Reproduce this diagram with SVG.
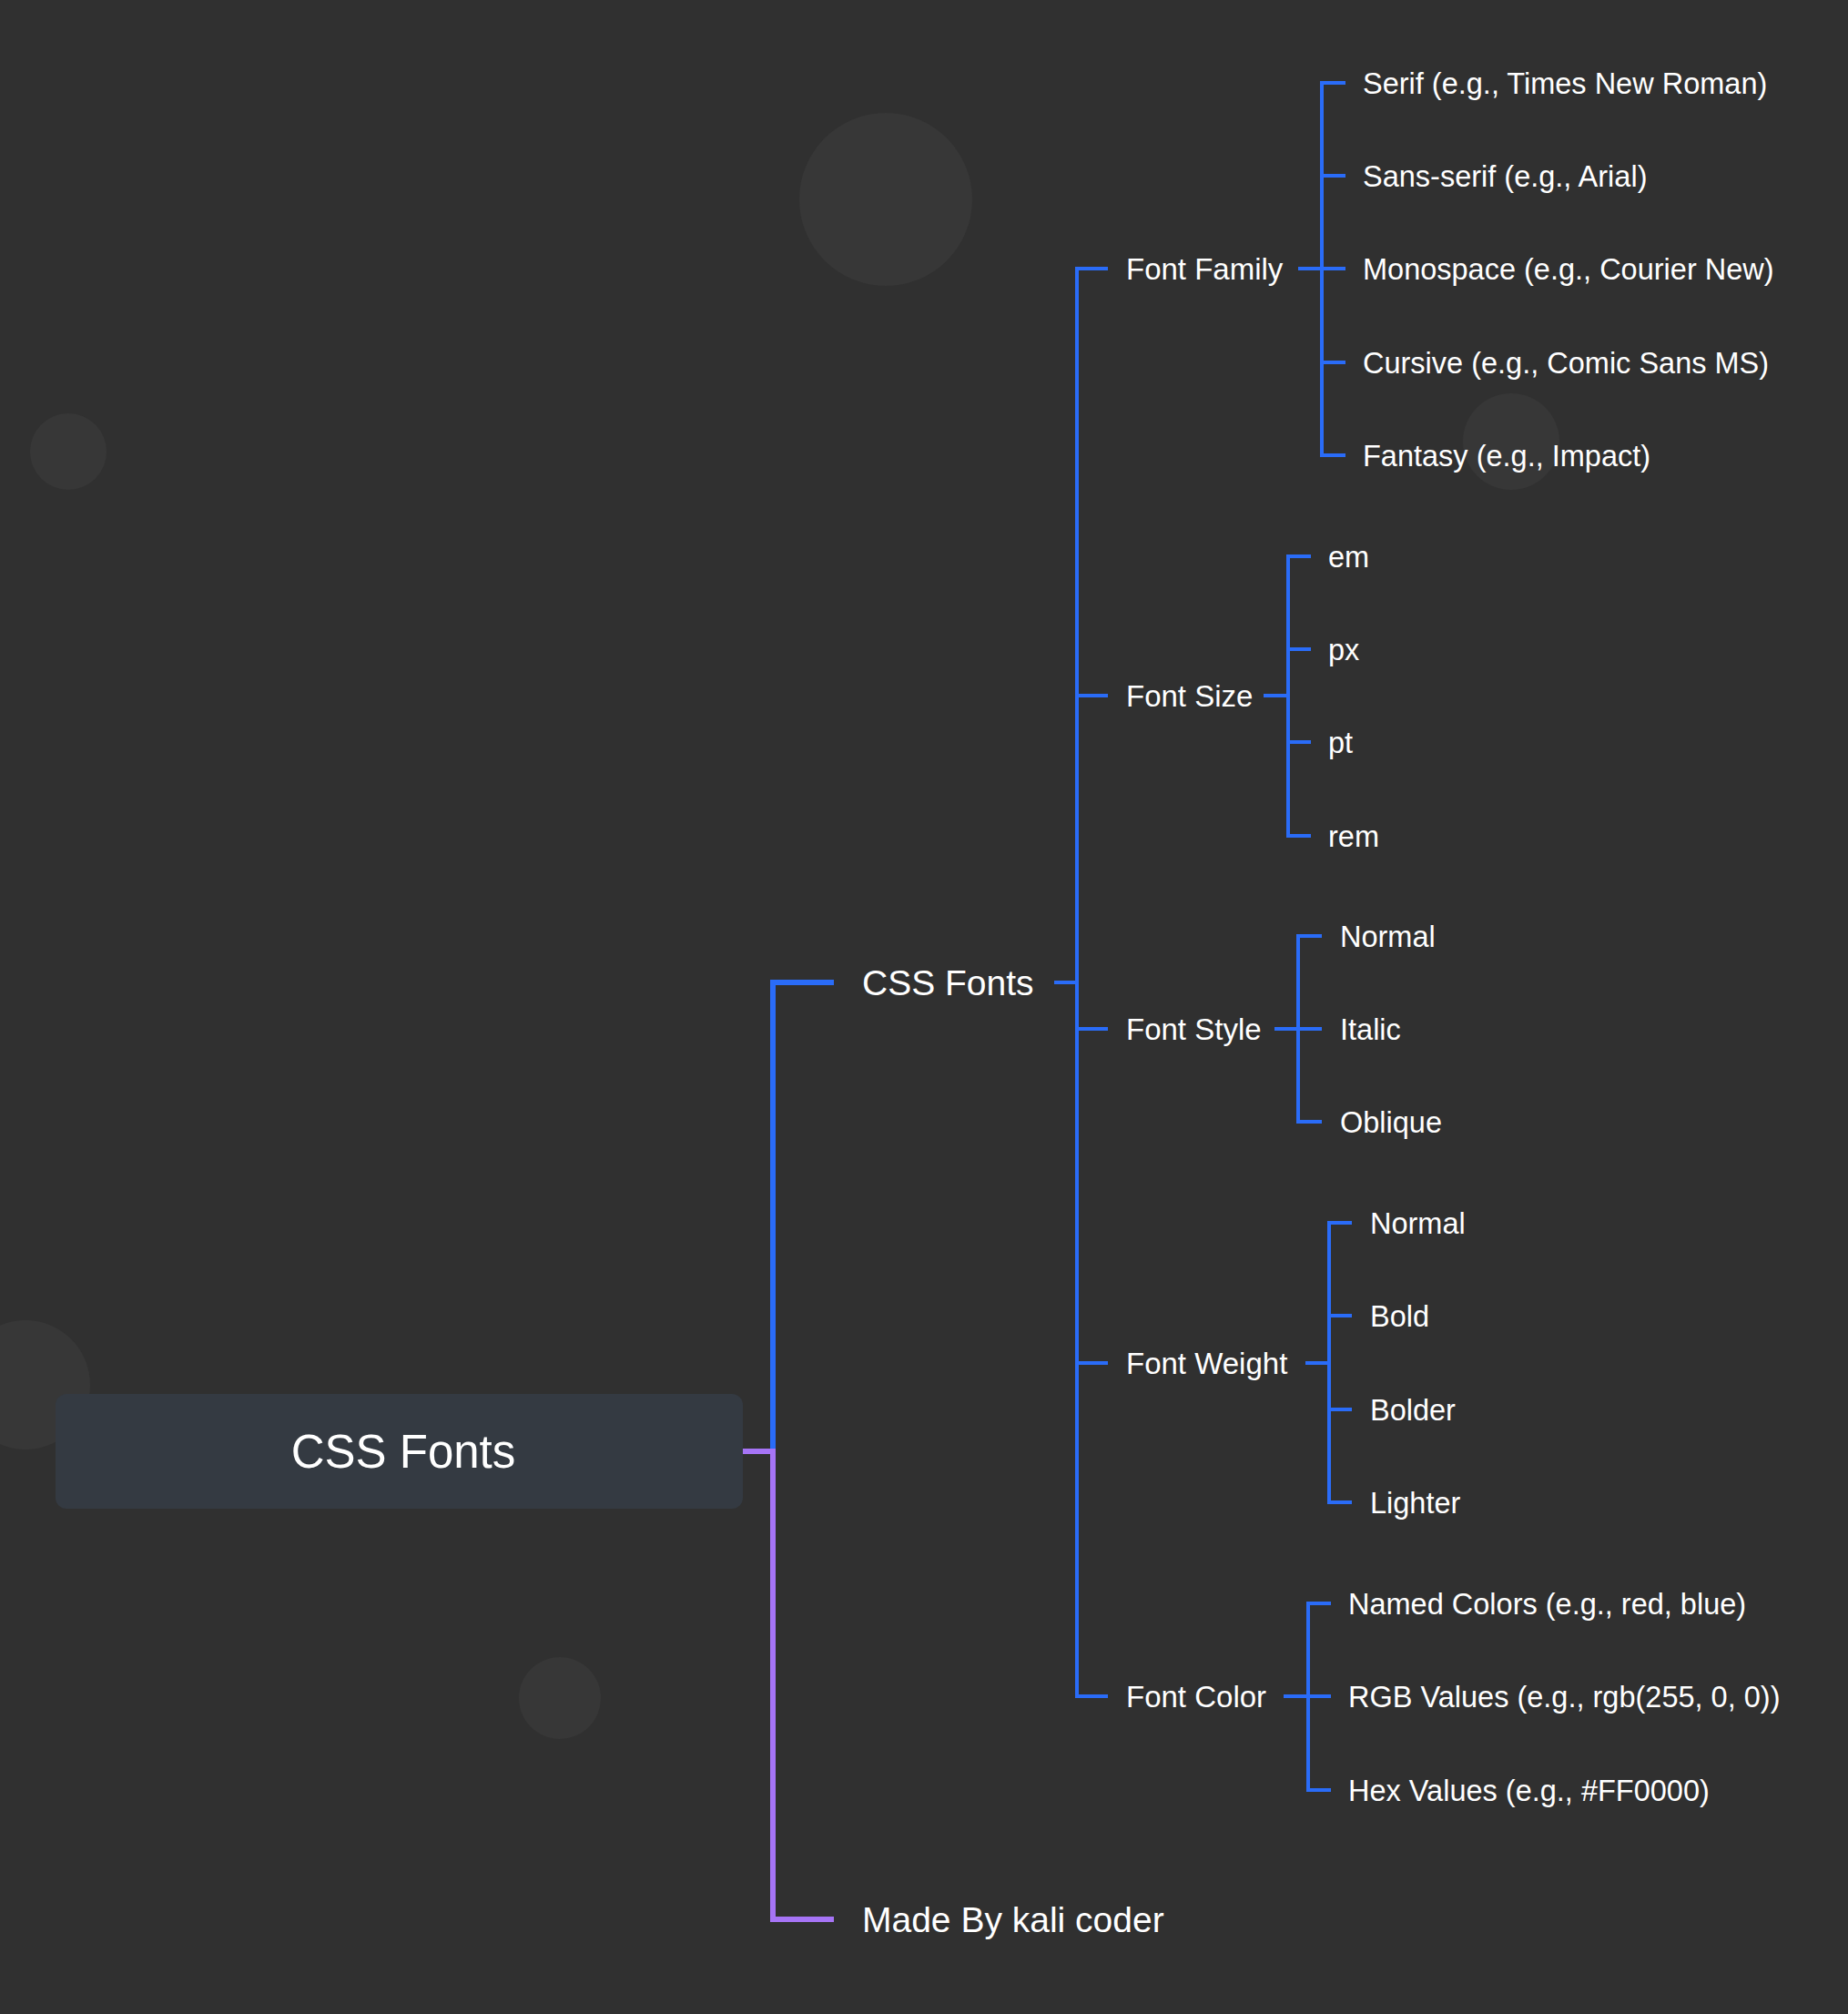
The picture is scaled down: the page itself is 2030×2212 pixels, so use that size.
<svg xmlns="http://www.w3.org/2000/svg" width="2030" height="2212" viewBox="0 0 2030 2212">
<style>
text{font-family:"Liberation Sans",Arial,sans-serif;fill:#ffffff}
.t1{font-size:51px}
.t2{font-size:39px}
.t3{font-size:33px}
.t4{font-size:32.5px}
.blue{stroke:#2a6cf8;fill:none;stroke-width:4}
.thick{stroke-width:6}
.purple{stroke:#a674f6;fill:none;stroke-width:6}
.deco{fill:#373737}
</style>
<rect width="2030" height="2212" fill="#303030"/>
<g id="decor">
<circle class="deco" cx="973" cy="219" r="95"/>
<circle class="deco" cx="75" cy="496" r="42"/>
<circle class="deco" cx="1660" cy="485" r="53"/>
<circle class="deco" cx="28" cy="1521" r="71"/>
<circle class="deco" cx="615" cy="1865" r="45"/>
</g>
<g id="connectors">
<path class="blue thick" d="M849,1594 V1079 H916"/>
<path class="purple" d="M816,1594 H849 V2108 H916"/>
<path class="blue" d="M1158,1079 H1183"/>
<path class="blue" d="M1217,295 H1183 V1863 H1217 M1183,764 H1217 M1183,1130 H1217 M1183,1497 H1217"/>
<path class="blue" d="M1426,295 H1478 M1478,91 H1452 V500 H1478 M1452,193 H1478 M1452,398 H1478"/>
<path class="blue" d="M1388,764 H1415 M1440,611 H1415 V918 H1440 M1415,713 H1440 M1415,815 H1440"/>
<path class="blue" d="M1400,1130 H1452 M1452,1028 H1426 V1232 H1452"/>
<path class="blue" d="M1434,1497 H1460 M1485,1343 H1460 V1650 H1485 M1460,1445 H1485 M1460,1548 H1485"/>
<path class="blue" d="M1410,1863 H1462 M1462,1761 H1437 V1966 H1462"/>
</g>
<g id="root">
<rect x="61" y="1531" width="755" height="126" rx="12" fill="#343a42"/>
<text class="t1" x="443" y="1612" text-anchor="middle">CSS Fonts</text>
</g>
<g id="css-fonts"><text class="t2" x="947" y="1093">CSS Fonts</text></g>
<g id="made-by"><text class="t2" x="947" y="2122">Made By kali coder</text></g>
<g id="font-family"><text class="t3" x="1237" y="307">Font Family</text></g>
<g id="ff-serif"><text class="t4" x="1497" y="103">Serif (e.g., Times New Roman)</text></g>
<g id="ff-sans"><text class="t4" x="1497" y="205">Sans-serif (e.g., Arial)</text></g>
<g id="ff-mono"><text class="t4" x="1497" y="307">Monospace (e.g., Courier New)</text></g>
<g id="ff-cursive"><text class="t4" x="1497" y="410">Cursive (e.g., Comic Sans MS)</text></g>
<g id="ff-fantasy"><text class="t4" x="1497" y="512">Fantasy (e.g., Impact)</text></g>
<g id="font-size"><text class="t3" x="1237" y="776">Font Size</text></g>
<g id="fs-em"><text class="t4" x="1459" y="623">em</text></g>
<g id="fs-px"><text class="t4" x="1459" y="725">px</text></g>
<g id="fs-pt"><text class="t4" x="1459" y="827">pt</text></g>
<g id="fs-rem"><text class="t4" x="1459" y="930">rem</text></g>
<g id="font-style"><text class="t3" x="1237" y="1142">Font Style</text></g>
<g id="fst-normal"><text class="t4" x="1472" y="1040">Normal</text></g>
<g id="fst-italic"><text class="t4" x="1472" y="1142">Italic</text></g>
<g id="fst-oblique"><text class="t4" x="1472" y="1244">Oblique</text></g>
<g id="font-weight"><text class="t3" x="1237" y="1509">Font Weight</text></g>
<g id="fw-normal"><text class="t4" x="1505" y="1355">Normal</text></g>
<g id="fw-bold"><text class="t4" x="1505" y="1457">Bold</text></g>
<g id="fw-bolder"><text class="t4" x="1505" y="1560">Bolder</text></g>
<g id="fw-lighter"><text class="t4" x="1505" y="1662">Lighter</text></g>
<g id="font-color"><text class="t3" x="1237" y="1875">Font Color</text></g>
<g id="fc-named"><text class="t4" x="1481" y="1773">Named Colors (e.g., red, blue)</text></g>
<g id="fc-rgb"><text class="t4" x="1481" y="1875">RGB Values (e.g., rgb(255, 0, 0))</text></g>
<g id="fc-hex"><text class="t4" x="1481" y="1978">Hex Values (e.g., #FF0000)</text></g>
</svg>
